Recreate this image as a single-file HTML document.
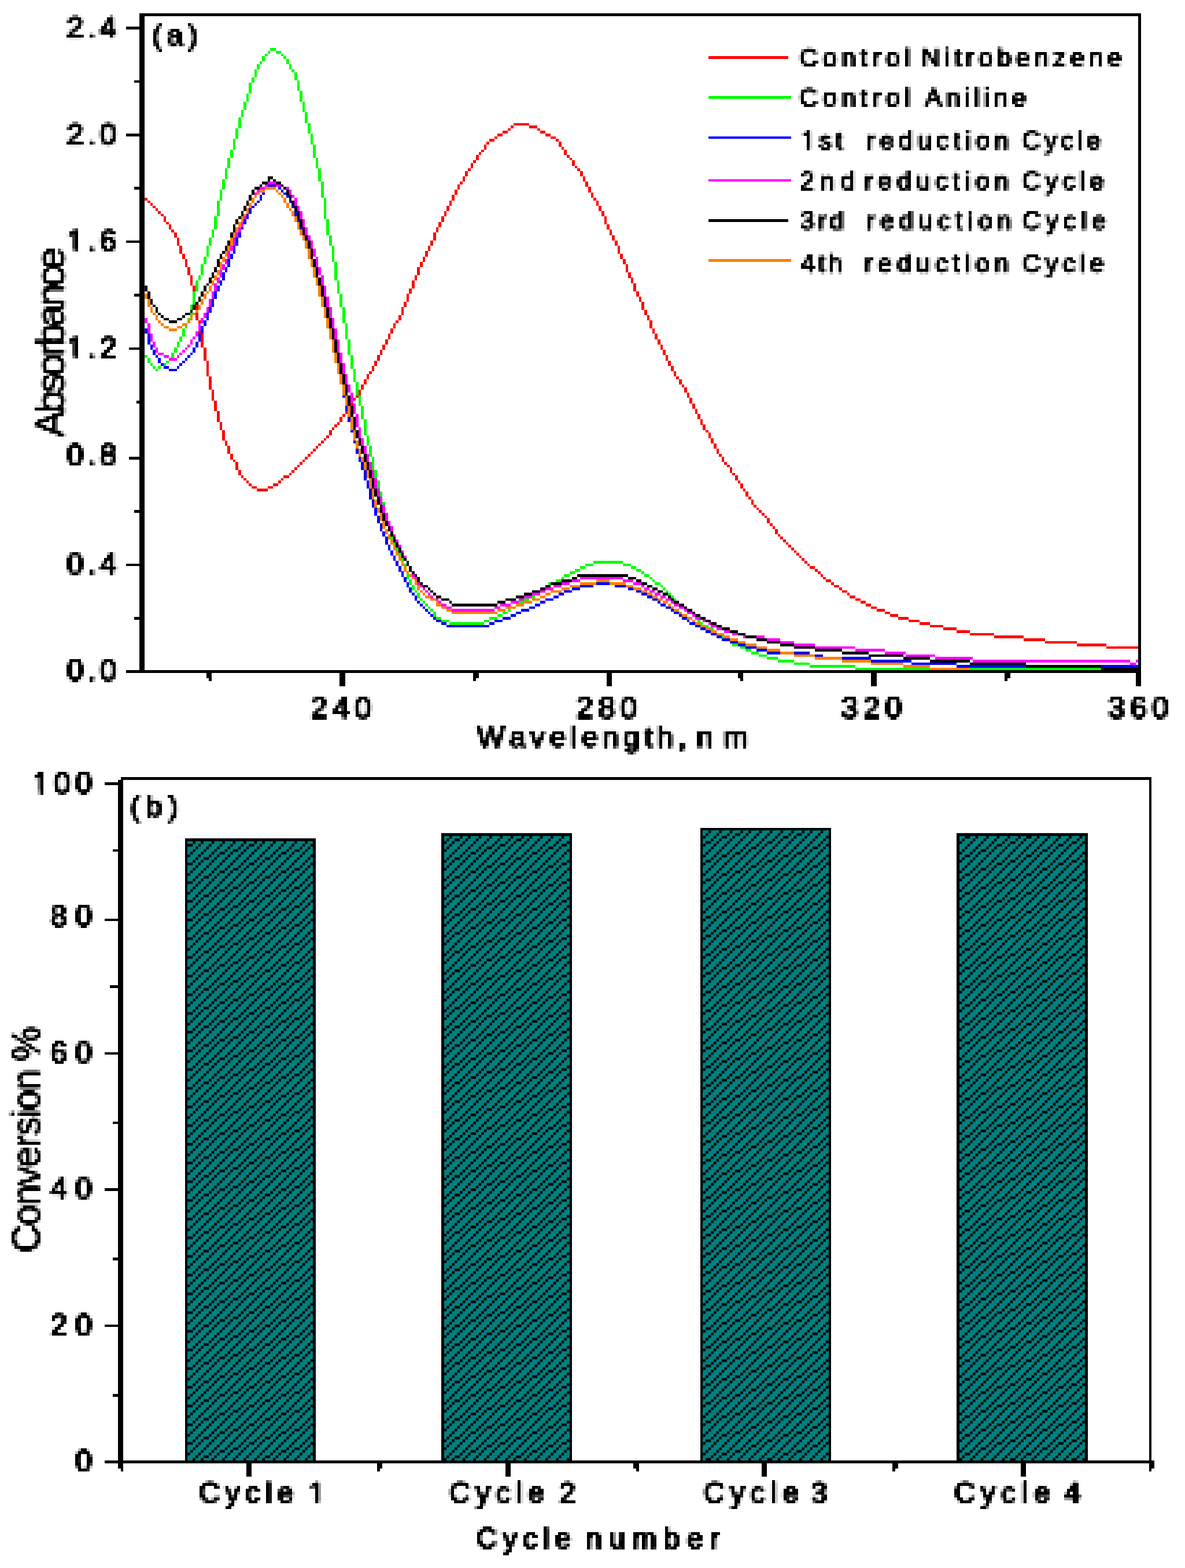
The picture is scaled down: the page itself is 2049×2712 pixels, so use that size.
<!DOCTYPE html>
<html lang="en">
<head>
<meta charset="utf-8">
<title>UV-Vis absorbance and conversion per reduction cycle</title>
<style>
html,body{margin:0;padding:0;background:#fff;}
body{width:2049px;height:2712px;overflow:hidden;}
svg{display:block;}
text{white-space:pre;}
</style>
</head>
<body>
<svg width="2049" height="2712" viewBox="0 0 2049 2712" role="img" aria-label="(a) UV-Vis absorbance spectra; (b) conversion per cycle">
<rect width="2049" height="2712" fill="#fff"/>
<g id="chart-a" shape-rendering="crispEdges">
<clipPath id="plotclip"><rect x="250.28" y="27.91" width="1717.97" height="1136.08"/></clipPath>
<g id="curves" clip-path="url(#plotclip)">
<path fill="#ff0000" d="M250.28 341.95h4.62v4.62h-4.62zM254.9 346.56h4.62v4.62h-4.62zM259.52 351.18h4.62v4.62h-4.62zM264.14 355.8h4.62v4.62h-4.62zM268.76 360.42h4.62v4.62h-4.62zM273.37 365.04h4.62v4.62h-4.62zM277.99 369.66h4.62v4.62h-4.62zM282.61 374.27h4.62v9.24h-4.62zM287.23 383.51h4.62v4.62h-4.62zM291.85 388.13h4.62v9.24h-4.62zM296.46 397.37h4.62v4.62h-4.62zM301.08 401.98h4.62v9.24h-4.62zM305.7 411.22h4.62v13.85h-4.62zM310.32 425.07h4.62v13.85h-4.62zM314.94 438.93h4.62v9.24h-4.62zM319.56 448.17h4.62v13.85h-4.62zM324.17 462.02h4.62v13.85h-4.62zM328.79 475.87h4.62v18.47h-4.62zM333.41 494.35h4.62v32.33h-4.62zM338.03 526.67h4.62v27.71h-4.62zM342.65 554.38h4.62v23.09h-4.62zM347.26 577.48h4.62v23.09h-4.62zM351.88 600.57h4.62v23.09h-4.62zM356.5 623.66h4.62v27.71h-4.62zM361.12 651.37h4.62v23.09h-4.62zM365.74 674.46h4.62v18.47h-4.62zM370.36 692.93h4.62v18.47h-4.62zM374.97 711.4h4.62v18.47h-4.62zM379.59 729.88h4.62v13.85h-4.62zM384.21 743.73h4.62v18.47h-4.62zM388.83 762.2h4.62v9.24h-4.62zM393.45 771.44h4.62v13.85h-4.62zM398.07 785.29h4.62v9.24h-4.62zM402.68 794.53h4.62v4.62h-4.62zM407.3 799.15h4.62v13.85h-4.62zM411.92 813h4.62v9.24h-4.62zM416.54 822.24h4.62v4.62h-4.62zM421.16 826.86h4.62v4.62h-4.62zM425.77 831.48h4.62v4.62h-4.62zM430.39 836.09h4.62v4.62h-4.62zM435.01 840.71h9.24v4.62h-9.24zM444.25 845.33h18.47v4.62h-18.47zM462.72 840.71h9.24v4.62h-9.24zM471.96 836.09h9.24v4.62h-9.24zM481.19 831.48h4.62v4.62h-4.62zM485.81 826.86h4.62v4.62h-4.62zM490.43 822.24h9.24v4.62h-9.24zM499.67 817.62h4.62v4.62h-4.62zM504.28 813h4.62v4.62h-4.62zM508.9 808.38h4.62v4.62h-4.62zM513.52 803.77h4.62v4.62h-4.62zM518.14 799.15h4.62v4.62h-4.62zM522.76 794.53h4.62v4.62h-4.62zM527.37 789.91h4.62v4.62h-4.62zM531.99 785.29h4.62v4.62h-4.62zM536.61 780.68h4.62v4.62h-4.62zM541.23 776.06h4.62v4.62h-4.62zM545.85 771.44h4.62v4.62h-4.62zM550.47 766.82h4.62v4.62h-4.62zM555.08 762.2h4.62v4.62h-4.62zM559.7 757.58h4.62v4.62h-4.62zM564.32 752.97h4.62v4.62h-4.62zM568.94 743.73h4.62v9.24h-4.62zM573.56 739.11h4.62v4.62h-4.62zM578.17 734.49h4.62v4.62h-4.62zM582.79 729.88h4.62v4.62h-4.62zM587.41 720.64h4.62v9.24h-4.62zM592.03 716.02h4.62v4.62h-4.62zM596.65 706.78h4.62v9.24h-4.62zM601.27 702.17h4.62v4.62h-4.62zM605.88 692.93h4.62v9.24h-4.62zM610.5 688.31h4.62v4.62h-4.62zM615.12 683.69h4.62v4.62h-4.62zM619.74 674.46h4.62v9.24h-4.62zM624.36 665.22h4.62v9.24h-4.62zM628.98 655.98h4.62v9.24h-4.62zM633.59 646.75h4.62v9.24h-4.62zM638.21 642.13h4.62v4.62h-4.62zM642.83 632.89h4.62v9.24h-4.62zM647.45 623.66h4.62v9.24h-4.62zM652.07 614.42h4.62v9.24h-4.62zM656.68 605.18h4.62v9.24h-4.62zM661.3 595.95h4.62v9.24h-4.62zM665.92 586.71h4.62v9.24h-4.62zM670.54 577.48h4.62v9.24h-4.62zM675.16 568.24h4.62v9.24h-4.62zM679.78 559h4.62v9.24h-4.62zM684.39 554.38h4.62v4.62h-4.62zM689.01 545.15h4.62v9.24h-4.62zM693.63 531.29h4.62v13.85h-4.62zM698.25 522.06h4.62v9.24h-4.62zM702.87 508.2h4.62v13.85h-4.62zM707.48 498.97h4.62v9.24h-4.62zM712.1 485.11h4.62v13.85h-4.62zM716.72 475.87h4.62v9.24h-4.62zM721.34 462.02h4.62v13.85h-4.62zM725.96 452.78h4.62v9.24h-4.62zM730.58 443.55h4.62v9.24h-4.62zM735.19 434.31h4.62v9.24h-4.62zM739.81 425.07h4.62v9.24h-4.62zM744.43 415.84h4.62v9.24h-4.62zM749.05 401.98h4.62v13.85h-4.62zM753.67 392.75h4.62v9.24h-4.62zM758.28 383.51h4.62v9.24h-4.62zM762.9 374.27h4.62v9.24h-4.62zM767.52 365.04h4.62v9.24h-4.62zM772.14 355.8h4.62v9.24h-4.62zM776.76 346.56h4.62v9.24h-4.62zM781.38 337.33h4.62v9.24h-4.62zM785.99 328.09h4.62v9.24h-4.62zM790.61 318.86h4.62v9.24h-4.62zM795.23 314.24h4.62v4.62h-4.62zM799.85 305h4.62v9.24h-4.62zM804.47 295.76h4.62v9.24h-4.62zM809.08 291.15h4.62v4.62h-4.62zM813.7 281.91h4.62v9.24h-4.62zM818.32 277.29h4.62v4.62h-4.62zM822.94 268.06h4.62v9.24h-4.62zM827.56 263.44h4.62v4.62h-4.62zM832.18 258.82h4.62v4.62h-4.62zM836.79 249.58h4.62v9.24h-4.62zM841.41 244.96h4.62v4.62h-4.62zM846.03 240.35h9.24v4.62h-9.24zM855.27 235.73h4.62v4.62h-4.62zM859.89 231.11h9.24v4.62h-9.24zM869.12 226.49h9.24v4.62h-9.24zM878.36 221.87h4.62v4.62h-4.62zM882.98 217.26h4.62v4.62h-4.62zM887.59 212.64h27.71v4.62h-27.71zM915.3 217.26h13.85v4.62h-13.85zM929.16 221.87h4.62v4.62h-4.62zM933.78 226.49h9.24v4.62h-9.24zM943.01 231.11h9.24v4.62h-9.24zM952.25 235.73h9.24v4.62h-9.24zM961.49 240.35h4.62v4.62h-4.62zM966.1 244.96h4.62v9.24h-4.62zM970.72 254.2h4.62v4.62h-4.62zM975.34 258.82h4.62v9.24h-4.62zM979.96 268.06h4.62v4.62h-4.62zM984.58 272.67h4.62v4.62h-4.62zM989.19 277.29h4.62v9.24h-4.62zM993.81 286.53h4.62v4.62h-4.62zM998.43 291.15h4.62v4.62h-4.62zM1003.05 295.76h4.62v9.24h-4.62zM1007.67 305h4.62v9.24h-4.62zM1012.29 314.24h4.62v9.24h-4.62zM1016.9 323.47h4.62v9.24h-4.62zM1021.52 332.71h4.62v9.24h-4.62zM1026.14 341.95h4.62v4.62h-4.62zM1030.76 346.56h4.62v9.24h-4.62zM1035.38 355.8h4.62v9.24h-4.62zM1040 365.04h4.62v9.24h-4.62zM1044.61 374.27h4.62v13.85h-4.62zM1049.23 388.13h4.62v9.24h-4.62zM1053.85 397.37h4.62v9.24h-4.62zM1058.47 406.6h4.62v9.24h-4.62zM1063.09 415.84h4.62v9.24h-4.62zM1067.7 425.07h4.62v13.85h-4.62zM1072.32 438.93h4.62v9.24h-4.62zM1076.94 448.17h4.62v9.24h-4.62zM1081.56 457.4h4.62v13.85h-4.62zM1086.18 471.26h4.62v9.24h-4.62zM1090.8 480.49h4.62v9.24h-4.62zM1095.41 489.73h4.62v13.85h-4.62zM1100.03 503.58h4.62v9.24h-4.62zM1104.65 512.82h4.62v9.24h-4.62zM1109.27 522.06h4.62v13.85h-4.62zM1113.89 535.91h4.62v9.24h-4.62zM1118.5 545.15h4.62v9.24h-4.62zM1123.12 554.38h4.62v13.85h-4.62zM1127.74 568.24h4.62v9.24h-4.62zM1132.36 577.48h4.62v9.24h-4.62zM1136.98 586.71h4.62v9.24h-4.62zM1141.6 595.95h4.62v9.24h-4.62zM1146.21 605.18h4.62v9.24h-4.62zM1150.83 614.42h4.62v9.24h-4.62zM1155.45 623.66h4.62v9.24h-4.62zM1160.07 632.89h4.62v9.24h-4.62zM1164.69 642.13h4.62v9.24h-4.62zM1169.3 651.37h4.62v4.62h-4.62zM1173.92 655.98h4.62v9.24h-4.62zM1178.54 665.22h4.62v4.62h-4.62zM1183.16 669.84h4.62v9.24h-4.62zM1187.78 679.08h4.62v9.24h-4.62zM1192.4 688.31h4.62v9.24h-4.62zM1197.01 697.55h4.62v9.24h-4.62zM1201.63 706.78h4.62v9.24h-4.62zM1206.25 716.02h4.62v9.24h-4.62zM1210.87 725.26h4.62v9.24h-4.62zM1215.49 734.49h4.62v9.24h-4.62zM1220.1 743.73h4.62v4.62h-4.62zM1224.72 748.35h4.62v9.24h-4.62zM1229.34 757.58h4.62v9.24h-4.62zM1233.96 766.82h4.62v9.24h-4.62zM1238.58 776.06h4.62v9.24h-4.62zM1243.2 785.29h4.62v4.62h-4.62zM1247.81 789.91h4.62v9.24h-4.62zM1252.43 799.15h4.62v4.62h-4.62zM1257.05 803.77h4.62v4.62h-4.62zM1261.67 808.38h4.62v9.24h-4.62zM1266.29 817.62h4.62v4.62h-4.62zM1270.9 822.24h4.62v9.24h-4.62zM1275.52 831.48h4.62v4.62h-4.62zM1280.14 836.09h4.62v9.24h-4.62zM1284.76 845.33h4.62v4.62h-4.62zM1289.38 849.95h4.62v9.24h-4.62zM1294 859.19h4.62v4.62h-4.62zM1298.61 863.8h4.62v9.24h-4.62zM1303.23 873.04h4.62v4.62h-4.62zM1307.85 877.66h4.62v4.62h-4.62zM1312.47 882.28h4.62v4.62h-4.62zM1317.09 886.89h4.62v4.62h-4.62zM1321.71 891.51h4.62v4.62h-4.62zM1326.32 896.13h4.62v9.24h-4.62zM1330.94 905.37h4.62v4.62h-4.62zM1335.56 909.99h4.62v4.62h-4.62zM1340.18 914.6h4.62v9.24h-4.62zM1344.8 923.84h4.62v4.62h-4.62zM1349.41 928.46h4.62v4.62h-4.62zM1354.03 933.08h4.62v4.62h-4.62zM1358.65 937.69h4.62v4.62h-4.62zM1363.27 942.31h4.62v4.62h-4.62zM1367.89 946.93h4.62v4.62h-4.62zM1372.51 951.55h4.62v4.62h-4.62zM1377.12 956.17h4.62v4.62h-4.62zM1381.74 960.79h4.62v4.62h-4.62zM1386.36 965.4h4.62v4.62h-4.62zM1390.98 970.02h4.62v4.62h-4.62zM1395.6 974.64h4.62v4.62h-4.62zM1400.21 979.26h9.24v4.62h-9.24zM1409.45 983.88h4.62v4.62h-4.62zM1414.07 988.49h4.62v4.62h-4.62zM1418.69 993.11h4.62v4.62h-4.62zM1423.31 997.73h4.62v4.62h-4.62zM1427.92 1002.35h9.24v4.62h-9.24zM1437.16 1006.97h4.62v4.62h-4.62zM1441.78 1011.59h9.24v4.62h-9.24zM1451.01 1016.2h4.62v4.62h-4.62zM1455.63 1020.82h9.24v4.62h-9.24zM1464.87 1025.44h4.62v4.62h-4.62zM1469.49 1030.06h9.24v4.62h-9.24zM1478.72 1034.68h9.24v4.62h-9.24zM1487.96 1039.3h9.24v4.62h-9.24zM1497.2 1043.91h9.24v4.62h-9.24zM1506.43 1048.53h9.24v4.62h-9.24zM1515.67 1053.15h13.85v4.62h-13.85zM1529.52 1057.77h9.24v4.62h-9.24zM1538.76 1062.39h13.85v4.62h-13.85zM1552.62 1067h18.47v4.62h-18.47zM1571.09 1071.62h18.47v4.62h-18.47zM1589.56 1076.24h18.47v4.62h-18.47zM1608.03 1080.86h23.09v4.62h-23.09zM1631.12 1085.48h23.09v4.62h-23.09zM1654.22 1090.1h23.09v4.62h-23.09zM1677.31 1094.71h41.56v4.62h-41.56zM1718.87 1099.33h50.8v4.62h-50.8zM1769.67 1103.95h36.95v4.62h-36.95zM1806.62 1108.57h55.42v4.62h-55.42zM1862.03 1113.19h50.8v4.62h-50.8zM1912.83 1117.8h55.42v4.62h-55.42z"/>
<path fill="#00ff00" d="M250.28 614.42h4.62v4.62h-4.62zM254.9 619.04h4.62v9.24h-4.62zM259.52 628.28h4.62v4.62h-4.62zM264.14 632.89h4.62v4.62h-4.62zM268.76 637.51h4.62v4.62h-4.62zM273.37 632.89h4.62v4.62h-4.62zM277.99 628.28h9.24v4.62h-9.24zM287.23 623.66h4.62v4.62h-4.62zM291.85 619.04h4.62v4.62h-4.62zM296.46 609.8h4.62v9.24h-4.62zM301.08 600.57h4.62v9.24h-4.62zM305.7 591.33h4.62v9.24h-4.62zM310.32 582.09h4.62v9.24h-4.62zM314.94 568.24h4.62v13.85h-4.62zM319.56 559h4.62v9.24h-4.62zM324.17 549.77h4.62v9.24h-4.62zM328.79 526.67h4.62v23.09h-4.62zM333.41 503.58h4.62v23.09h-4.62zM338.03 485.11h4.62v18.47h-4.62zM342.65 475.87h4.62v9.24h-4.62zM347.26 457.4h4.62v18.47h-4.62zM351.88 443.55h4.62v13.85h-4.62zM356.5 425.07h4.62v18.47h-4.62zM361.12 411.22h4.62v13.85h-4.62zM365.74 397.37h4.62v13.85h-4.62zM370.36 374.27h4.62v23.09h-4.62zM374.97 346.56h4.62v27.71h-4.62zM379.59 328.09h4.62v18.47h-4.62zM384.21 309.62h4.62v18.47h-4.62zM388.83 291.15h4.62v18.47h-4.62zM393.45 272.67h4.62v18.47h-4.62zM398.07 258.82h4.62v13.85h-4.62zM402.68 240.35h4.62v18.47h-4.62zM407.3 221.87h4.62v18.47h-4.62zM411.92 203.4h4.62v18.47h-4.62zM416.54 189.55h4.62v13.85h-4.62zM421.16 175.69h4.62v13.85h-4.62zM425.77 161.84h4.62v13.85h-4.62zM430.39 143.36h4.62v18.47h-4.62zM435.01 134.13h4.62v9.24h-4.62zM439.63 120.27h4.62v13.85h-4.62zM444.25 111.04h4.62v9.24h-4.62zM448.87 106.42h4.62v4.62h-4.62zM453.48 97.18h4.62v9.24h-4.62zM458.1 92.56h4.62v4.62h-4.62zM462.72 87.95h4.62v4.62h-4.62zM467.34 83.33h9.24v4.62h-9.24zM476.57 87.95h9.24v4.62h-9.24zM485.81 92.56h4.62v4.62h-4.62zM490.43 97.18h4.62v4.62h-4.62zM495.05 101.8h4.62v9.24h-4.62zM499.67 111.04h4.62v9.24h-4.62zM504.28 120.27h4.62v4.62h-4.62zM508.9 124.89h4.62v13.85h-4.62zM513.52 138.75h4.62v18.47h-4.62zM518.14 157.22h4.62v18.47h-4.62zM522.76 175.69h4.62v18.47h-4.62zM527.37 194.16h4.62v18.47h-4.62zM531.99 212.64h4.62v18.47h-4.62zM536.61 231.11h4.62v18.47h-4.62zM541.23 249.58h4.62v23.09h-4.62zM545.85 272.67h4.62v18.47h-4.62zM550.47 291.15h4.62v23.09h-4.62zM555.08 314.24h4.62v27.71h-4.62zM559.7 341.95h4.62v36.95h-4.62zM564.32 378.89h4.62v27.71h-4.62zM568.94 406.6h4.62v18.47h-4.62zM573.56 425.07h4.62v27.71h-4.62zM578.17 452.78h4.62v32.33h-4.62zM582.79 485.11h4.62v23.09h-4.62zM587.41 508.2h4.62v23.09h-4.62zM592.03 531.29h4.62v27.71h-4.62zM596.65 559h4.62v27.71h-4.62zM601.27 586.71h4.62v27.71h-4.62zM605.88 614.42h4.62v23.09h-4.62zM610.5 637.51h4.62v23.09h-4.62zM615.12 660.6h4.62v23.09h-4.62zM619.74 683.69h4.62v18.47h-4.62zM624.36 702.17h4.62v23.09h-4.62zM628.98 725.26h4.62v27.71h-4.62zM633.59 752.97h4.62v18.47h-4.62zM638.21 771.44h4.62v18.47h-4.62zM642.83 789.91h4.62v23.09h-4.62zM647.45 813h4.62v18.47h-4.62zM652.07 831.48h4.62v18.47h-4.62zM656.68 849.95h4.62v18.47h-4.62zM661.3 868.42h4.62v18.47h-4.62zM665.92 886.89h4.62v13.85h-4.62zM670.54 900.75h4.62v18.47h-4.62zM675.16 919.22h4.62v13.85h-4.62zM679.78 933.08h4.62v9.24h-4.62zM684.39 942.31h4.62v9.24h-4.62zM689.01 951.55h4.62v9.24h-4.62zM693.63 960.79h4.62v13.85h-4.62zM698.25 974.64h4.62v13.85h-4.62zM702.87 988.49h4.62v13.85h-4.62zM707.48 1002.35h4.62v9.24h-4.62zM712.1 1011.59h4.62v9.24h-4.62zM716.72 1020.82h4.62v4.62h-4.62zM721.34 1025.44h4.62v9.24h-4.62zM725.96 1034.68h4.62v4.62h-4.62zM730.58 1039.3h4.62v4.62h-4.62zM735.19 1043.91h4.62v4.62h-4.62zM739.81 1048.53h4.62v4.62h-4.62zM744.43 1053.15h4.62v4.62h-4.62zM749.05 1057.77h4.62v9.24h-4.62zM753.67 1067h9.24v4.62h-9.24zM762.9 1071.62h13.85v4.62h-13.85zM776.76 1076.24h60.04v4.62h-60.04zM836.79 1071.62h9.24v4.62h-9.24zM846.03 1067h13.85v4.62h-13.85zM859.89 1062.39h9.24v4.62h-9.24zM869.12 1057.77h9.24v4.62h-9.24zM878.36 1053.15h4.62v4.62h-4.62zM882.98 1048.53h9.24v4.62h-9.24zM892.21 1043.91h4.62v4.62h-4.62zM896.83 1039.3h9.24v4.62h-9.24zM906.07 1034.68h9.24v4.62h-9.24zM915.3 1030.06h9.24v4.62h-9.24zM924.54 1025.44h4.62v4.62h-4.62zM929.16 1020.82h9.24v4.62h-9.24zM938.39 1016.2h4.62v4.62h-4.62zM943.01 1011.59h4.62v4.62h-4.62zM947.63 1006.97h13.85v4.62h-13.85zM961.49 1002.35h9.24v4.62h-9.24zM970.72 997.73h4.62v4.62h-4.62zM975.34 993.11h9.24v4.62h-9.24zM984.58 988.49h9.24v4.62h-9.24zM993.81 983.88h9.24v4.62h-9.24zM1003.05 979.26h9.24v4.62h-9.24zM1012.29 974.64h13.85v4.62h-13.85zM1026.14 970.02h50.8v4.62h-50.8zM1076.94 974.64h13.85v4.62h-13.85zM1090.8 979.26h9.24v4.62h-9.24zM1100.03 983.88h9.24v4.62h-9.24zM1109.27 988.49h4.62v4.62h-4.62zM1113.89 993.11h9.24v4.62h-9.24zM1123.12 997.73h4.62v4.62h-4.62zM1127.74 1002.35h4.62v4.62h-4.62zM1132.36 1006.97h9.24v4.62h-9.24zM1141.6 1011.59h4.62v4.62h-4.62zM1146.21 1016.2h4.62v4.62h-4.62zM1150.83 1020.82h4.62v4.62h-4.62zM1155.45 1025.44h4.62v4.62h-4.62zM1160.07 1030.06h4.62v4.62h-4.62zM1164.69 1034.68h4.62v4.62h-4.62zM1169.3 1039.3h4.62v4.62h-4.62zM1173.92 1043.91h4.62v4.62h-4.62zM1178.54 1048.53h9.24v4.62h-9.24zM1187.78 1053.15h4.62v4.62h-4.62zM1192.4 1057.77h4.62v4.62h-4.62zM1197.01 1062.39h4.62v4.62h-4.62zM1201.63 1067h4.62v4.62h-4.62zM1206.25 1071.62h4.62v4.62h-4.62zM1210.87 1076.24h4.62v4.62h-4.62zM1215.49 1080.86h9.24v4.62h-9.24zM1224.72 1085.48h9.24v4.62h-9.24zM1233.96 1090.1h4.62v4.62h-4.62zM1238.58 1094.71h9.24v4.62h-9.24zM1247.81 1099.33h4.62v4.62h-4.62zM1252.43 1103.95h9.24v4.62h-9.24zM1261.67 1108.57h4.62v4.62h-4.62zM1266.29 1113.19h13.85v4.62h-13.85zM1280.14 1117.8h9.24v4.62h-9.24zM1289.38 1122.42h9.24v4.62h-9.24zM1298.61 1127.04h13.85v4.62h-13.85zM1312.47 1131.66h13.85v4.62h-13.85zM1326.32 1136.28h18.47v4.62h-18.47zM1344.8 1140.9h27.71v4.62h-27.71zM1372.51 1145.51h27.71v4.62h-27.71zM1400.21 1150.13h78.51v4.62h-78.51zM1478.72 1154.75h489.53v4.62h-489.53z"/>
<path fill="#0000ff" d="M250.28 568.24h4.62v9.24h-4.62zM254.9 577.48h4.62v18.47h-4.62zM259.52 595.95h4.62v9.24h-4.62zM264.14 605.18h4.62v9.24h-4.62zM268.76 614.42h4.62v4.62h-4.62zM273.37 619.04h4.62v9.24h-4.62zM277.99 628.28h4.62v4.62h-4.62zM282.61 632.89h9.24v4.62h-9.24zM291.85 637.51h13.85v4.62h-13.85zM305.7 632.89h4.62v4.62h-4.62zM310.32 628.28h4.62v4.62h-4.62zM314.94 623.66h4.62v4.62h-4.62zM319.56 619.04h4.62v4.62h-4.62zM324.17 614.42h4.62v4.62h-4.62zM328.79 609.8h4.62v4.62h-4.62zM333.41 600.57h4.62v9.24h-4.62zM338.03 591.33h4.62v9.24h-4.62zM342.65 577.48h4.62v13.85h-4.62zM347.26 563.62h4.62v13.85h-4.62zM351.88 554.38h4.62v9.24h-4.62zM356.5 540.53h4.62v13.85h-4.62zM361.12 531.29h4.62v9.24h-4.62zM365.74 517.44h4.62v13.85h-4.62zM370.36 503.58h4.62v13.85h-4.62zM374.97 494.35h4.62v9.24h-4.62zM379.59 485.11h4.62v9.24h-4.62zM384.21 471.26h4.62v13.85h-4.62zM388.83 462.02h4.62v9.24h-4.62zM393.45 448.17h4.62v13.85h-4.62zM398.07 438.93h4.62v9.24h-4.62zM402.68 425.07h4.62v13.85h-4.62zM407.3 411.22h4.62v13.85h-4.62zM411.92 397.37h4.62v13.85h-4.62zM416.54 388.13h4.62v9.24h-4.62zM421.16 378.89h4.62v9.24h-4.62zM425.77 369.66h4.62v9.24h-4.62zM430.39 360.42h4.62v9.24h-4.62zM435.01 355.8h4.62v4.62h-4.62zM439.63 351.18h4.62v4.62h-4.62zM444.25 346.56h4.62v4.62h-4.62zM448.87 337.33h4.62v9.24h-4.62zM453.48 328.09h4.62v9.24h-4.62zM458.1 318.86h4.62v9.24h-4.62zM462.72 318.86h18.47v4.62h-18.47zM481.19 323.47h4.62v4.62h-4.62zM485.81 328.09h4.62v4.62h-4.62zM490.43 332.71h4.62v4.62h-4.62zM495.05 337.33h4.62v4.62h-4.62zM499.67 341.95h4.62v9.24h-4.62zM504.28 351.18h4.62v9.24h-4.62zM508.9 360.42h4.62v13.85h-4.62zM513.52 374.27h4.62v18.47h-4.62zM518.14 392.75h4.62v13.85h-4.62zM522.76 406.6h4.62v9.24h-4.62zM527.37 415.84h4.62v13.85h-4.62zM531.99 429.69h4.62v13.85h-4.62zM536.61 443.55h4.62v18.47h-4.62zM541.23 462.02h4.62v18.47h-4.62zM545.85 480.49h4.62v13.85h-4.62zM550.47 494.35h4.62v18.47h-4.62zM555.08 512.82h4.62v18.47h-4.62zM559.7 531.29h4.62v18.47h-4.62zM564.32 549.77h4.62v18.47h-4.62zM568.94 568.24h4.62v18.47h-4.62zM573.56 586.71h4.62v23.09h-4.62zM578.17 609.8h4.62v18.47h-4.62zM582.79 628.28h4.62v18.47h-4.62zM587.41 646.75h4.62v18.47h-4.62zM592.03 665.22h4.62v23.09h-4.62zM596.65 688.31h4.62v23.09h-4.62zM601.27 711.4h4.62v18.47h-4.62zM605.88 729.88h4.62v18.47h-4.62zM610.5 748.35h4.62v18.47h-4.62zM615.12 766.82h4.62v18.47h-4.62zM619.74 785.29h4.62v13.85h-4.62zM624.36 799.15h4.62v13.85h-4.62zM628.98 813h4.62v18.47h-4.62zM633.59 831.48h4.62v13.85h-4.62zM638.21 845.33h4.62v18.47h-4.62zM642.83 863.8h4.62v13.85h-4.62zM647.45 877.66h4.62v13.85h-4.62zM652.07 891.51h4.62v13.85h-4.62zM656.68 905.37h4.62v13.85h-4.62zM661.3 919.22h4.62v9.24h-4.62zM665.92 928.46h4.62v13.85h-4.62zM670.54 942.31h4.62v9.24h-4.62zM675.16 951.55h4.62v9.24h-4.62zM679.78 960.79h4.62v9.24h-4.62zM684.39 970.02h4.62v9.24h-4.62zM689.01 979.26h4.62v9.24h-4.62zM693.63 988.49h4.62v9.24h-4.62zM698.25 997.73h4.62v9.24h-4.62zM702.87 1006.97h4.62v9.24h-4.62zM707.48 1016.2h4.62v9.24h-4.62zM712.1 1025.44h4.62v4.62h-4.62zM716.72 1030.06h4.62v9.24h-4.62zM721.34 1039.3h4.62v4.62h-4.62zM725.96 1043.91h4.62v4.62h-4.62zM730.58 1048.53h4.62v4.62h-4.62zM735.19 1053.15h4.62v4.62h-4.62zM739.81 1057.77h4.62v4.62h-4.62zM744.43 1062.39h4.62v4.62h-4.62zM749.05 1067h4.62v4.62h-4.62zM753.67 1071.62h9.24v4.62h-9.24zM762.9 1076.24h9.24v4.62h-9.24zM772.14 1080.86h73.89v4.62h-73.89zM846.03 1076.24h9.24v4.62h-9.24zM855.27 1071.62h13.85v4.62h-13.85zM869.12 1067h13.85v4.62h-13.85zM882.98 1062.39h9.24v4.62h-9.24zM892.21 1057.77h9.24v4.62h-9.24zM901.45 1053.15h13.85v4.62h-13.85zM915.3 1048.53h9.24v4.62h-9.24zM924.54 1043.91h9.24v4.62h-9.24zM933.78 1039.3h9.24v4.62h-9.24zM943.01 1034.68h13.85v4.62h-13.85zM956.87 1030.06h9.24v4.62h-9.24zM966.1 1025.44h9.24v4.62h-9.24zM975.34 1020.82h13.85v4.62h-13.85zM989.19 1016.2h13.85v4.62h-13.85zM1003.05 1011.59h23.09v4.62h-23.09zM1026.14 1006.97h36.95v4.62h-36.95zM1063.09 1011.59h23.09v4.62h-23.09zM1086.18 1016.2h13.85v4.62h-13.85zM1100.03 1020.82h9.24v4.62h-9.24zM1109.27 1025.44h9.24v4.62h-9.24zM1118.5 1030.06h9.24v4.62h-9.24zM1127.74 1034.68h9.24v4.62h-9.24zM1136.98 1039.3h4.62v4.62h-4.62zM1141.6 1043.91h9.24v4.62h-9.24zM1150.83 1048.53h9.24v4.62h-9.24zM1160.07 1053.15h4.62v4.62h-4.62zM1164.69 1057.77h9.24v4.62h-9.24zM1173.92 1062.39h4.62v4.62h-4.62zM1178.54 1067h9.24v4.62h-9.24zM1187.78 1071.62h4.62v4.62h-4.62zM1192.4 1076.24h9.24v4.62h-9.24zM1201.63 1080.86h9.24v4.62h-9.24zM1210.87 1085.48h9.24v4.62h-9.24zM1220.1 1090.1h9.24v4.62h-9.24zM1229.34 1094.71h9.24v4.62h-9.24zM1238.58 1099.33h9.24v4.62h-9.24zM1247.81 1103.95h13.85v4.62h-13.85zM1261.67 1108.57h13.85v4.62h-13.85zM1275.52 1113.19h13.85v4.62h-13.85zM1289.38 1117.8h18.47v4.62h-18.47zM1307.85 1122.42h18.47v4.62h-18.47zM1326.32 1127.04h73.89v4.62h-73.89zM1400.21 1131.66h23.09v4.62h-23.09zM1423.31 1136.28h83.13v4.62h-83.13zM1506.43 1140.9h69.27v4.62h-69.27zM1575.71 1145.51h78.51v4.62h-78.51zM1654.22 1150.13h314.04v4.62h-314.04z"/>
<path fill="#ff00ff" d="M250.28 549.77h4.62v9.24h-4.62zM254.9 559h4.62v18.47h-4.62zM259.52 577.48h4.62v13.85h-4.62zM264.14 591.33h4.62v9.24h-4.62zM268.76 600.57h4.62v9.24h-4.62zM273.37 609.8h9.24v4.62h-9.24zM282.61 614.42h9.24v4.62h-9.24zM291.85 619.04h13.85v4.62h-13.85zM305.7 614.42h4.62v4.62h-4.62zM310.32 609.8h4.62v4.62h-4.62zM314.94 605.18h4.62v4.62h-4.62zM319.56 600.57h4.62v4.62h-4.62zM324.17 595.95h4.62v4.62h-4.62zM328.79 586.71h4.62v9.24h-4.62zM333.41 582.09h4.62v4.62h-4.62zM338.03 572.86h4.62v9.24h-4.62zM342.65 559h4.62v13.85h-4.62zM347.26 549.77h4.62v9.24h-4.62zM351.88 540.53h4.62v9.24h-4.62zM356.5 531.29h4.62v9.24h-4.62zM361.12 517.44h4.62v13.85h-4.62zM365.74 503.58h4.62v13.85h-4.62zM370.36 489.73h4.62v13.85h-4.62zM374.97 480.49h4.62v9.24h-4.62zM379.59 466.64h4.62v13.85h-4.62zM384.21 457.4h4.62v9.24h-4.62zM388.83 448.17h4.62v9.24h-4.62zM393.45 434.31h4.62v13.85h-4.62zM398.07 425.07h4.62v9.24h-4.62zM402.68 411.22h4.62v13.85h-4.62zM407.3 401.98h4.62v9.24h-4.62zM411.92 392.75h4.62v9.24h-4.62zM416.54 378.89h4.62v13.85h-4.62zM421.16 369.66h4.62v9.24h-4.62zM425.77 360.42h4.62v9.24h-4.62zM430.39 351.18h4.62v9.24h-4.62zM435.01 341.95h4.62v9.24h-4.62zM439.63 332.71h4.62v9.24h-4.62zM444.25 328.09h4.62v4.62h-4.62zM448.87 323.47h9.24v4.62h-9.24zM458.1 318.86h4.62v4.62h-4.62zM462.72 314.24h13.85v4.62h-13.85zM476.57 318.86h13.85v4.62h-13.85zM490.43 323.47h9.24v4.62h-9.24zM499.67 328.09h4.62v9.24h-4.62zM504.28 337.33h4.62v4.62h-4.62zM508.9 341.95h4.62v13.85h-4.62zM513.52 355.8h4.62v9.24h-4.62zM518.14 365.04h4.62v13.85h-4.62zM522.76 378.89h4.62v13.85h-4.62zM527.37 392.75h4.62v13.85h-4.62zM531.99 406.6h4.62v9.24h-4.62zM536.61 415.84h4.62v13.85h-4.62zM541.23 429.69h4.62v13.85h-4.62zM545.85 443.55h4.62v18.47h-4.62zM550.47 462.02h4.62v13.85h-4.62zM555.08 475.87h4.62v18.47h-4.62zM559.7 494.35h4.62v18.47h-4.62zM564.32 512.82h4.62v18.47h-4.62zM568.94 531.29h4.62v18.47h-4.62zM573.56 549.77h4.62v18.47h-4.62zM578.17 568.24h4.62v18.47h-4.62zM582.79 586.71h4.62v23.09h-4.62zM587.41 609.8h4.62v18.47h-4.62zM592.03 628.28h4.62v18.47h-4.62zM596.65 646.75h4.62v18.47h-4.62zM601.27 665.22h4.62v13.85h-4.62zM605.88 679.08h4.62v18.47h-4.62zM610.5 697.55h4.62v18.47h-4.62zM615.12 716.02h4.62v23.09h-4.62zM619.74 739.11h4.62v18.47h-4.62zM624.36 757.58h4.62v13.85h-4.62zM628.98 771.44h4.62v13.85h-4.62zM633.59 785.29h4.62v13.85h-4.62zM638.21 799.15h4.62v13.85h-4.62zM642.83 813h4.62v13.85h-4.62zM647.45 826.86h4.62v18.47h-4.62zM652.07 845.33h4.62v13.85h-4.62zM656.68 859.19h4.62v13.85h-4.62zM661.3 873.04h4.62v13.85h-4.62zM665.92 886.89h4.62v13.85h-4.62zM670.54 900.75h4.62v9.24h-4.62zM675.16 909.99h4.62v13.85h-4.62zM679.78 923.84h4.62v9.24h-4.62zM684.39 933.08h4.62v9.24h-4.62zM689.01 942.31h4.62v9.24h-4.62zM693.63 951.55h4.62v9.24h-4.62zM698.25 960.79h4.62v9.24h-4.62zM702.87 970.02h4.62v9.24h-4.62zM707.48 979.26h4.62v9.24h-4.62zM712.1 988.49h4.62v9.24h-4.62zM716.72 997.73h4.62v4.62h-4.62zM721.34 1002.35h4.62v9.24h-4.62zM725.96 1011.59h4.62v4.62h-4.62zM730.58 1016.2h4.62v4.62h-4.62zM735.19 1020.82h4.62v4.62h-4.62zM739.81 1025.44h4.62v4.62h-4.62zM744.43 1030.06h4.62v4.62h-4.62zM749.05 1034.68h9.24v4.62h-9.24zM758.28 1039.3h4.62v4.62h-4.62zM762.9 1043.91h9.24v4.62h-9.24zM772.14 1048.53h9.24v4.62h-9.24zM781.38 1053.15h73.89v4.62h-73.89zM855.27 1048.53h9.24v4.62h-9.24zM864.5 1043.91h18.47v4.62h-18.47zM882.98 1039.3h13.85v4.62h-13.85zM896.83 1034.68h9.24v4.62h-9.24zM906.07 1030.06h13.85v4.62h-13.85zM919.92 1025.44h13.85v4.62h-13.85zM933.78 1020.82h9.24v4.62h-9.24zM943.01 1016.2h13.85v4.62h-13.85zM956.87 1011.59h13.85v4.62h-13.85zM970.72 1006.97h13.85v4.62h-13.85zM984.58 1002.35h18.47v4.62h-18.47zM1003.05 997.73h73.89v4.62h-73.89zM1076.94 1002.35h18.47v4.62h-18.47zM1095.41 1006.97h13.85v4.62h-13.85zM1109.27 1011.59h4.62v4.62h-4.62zM1113.89 1016.2h9.24v4.62h-9.24zM1123.12 1020.82h9.24v4.62h-9.24zM1132.36 1025.44h9.24v4.62h-9.24zM1141.6 1030.06h9.24v4.62h-9.24zM1150.83 1034.68h9.24v4.62h-9.24zM1160.07 1039.3h4.62v4.62h-4.62zM1164.69 1043.91h9.24v4.62h-9.24zM1173.92 1048.53h9.24v4.62h-9.24zM1183.16 1053.15h4.62v4.62h-4.62zM1187.78 1057.77h9.24v4.62h-9.24zM1197.01 1062.39h4.62v4.62h-4.62zM1201.63 1067h13.85v4.62h-13.85zM1215.49 1071.62h9.24v4.62h-9.24zM1224.72 1076.24h4.62v4.62h-4.62zM1229.34 1080.86h9.24v4.62h-9.24zM1238.58 1085.48h13.85v4.62h-13.85zM1252.43 1090.1h13.85v4.62h-13.85zM1266.29 1094.71h18.47v4.62h-18.47zM1284.76 1099.33h36.95v4.62h-36.95zM1321.71 1103.95h27.71v4.62h-27.71zM1349.41 1108.57h23.09v4.62h-23.09zM1372.51 1113.19h36.95v4.62h-36.95zM1409.45 1117.8h69.27v4.62h-69.27zM1478.72 1122.42h50.8v4.62h-50.8zM1529.52 1127.04h36.95v4.62h-36.95zM1566.47 1131.66h50.8v4.62h-50.8zM1617.27 1136.28h64.65v4.62h-64.65zM1681.92 1140.9h272.47v4.62h-272.47zM1954.4 1145.51h9.24v4.62h-9.24zM1963.63 1140.9h4.62v4.62h-4.62z"/>
<path fill="#000000" d="M250.28 494.35h4.62v9.24h-4.62zM254.9 503.58h4.62v13.85h-4.62zM259.52 517.44h4.62v9.24h-4.62zM264.14 526.67h4.62v4.62h-4.62zM268.76 531.29h4.62v9.24h-4.62zM273.37 540.53h4.62v4.62h-4.62zM277.99 545.15h4.62v4.62h-4.62zM282.61 549.77h9.24v4.62h-9.24zM291.85 554.38h13.85v4.62h-13.85zM305.7 549.77h9.24v4.62h-9.24zM314.94 545.15h4.62v4.62h-4.62zM319.56 540.53h9.24v4.62h-9.24zM328.79 535.91h4.62v4.62h-4.62zM333.41 526.67h4.62v9.24h-4.62zM338.03 522.06h4.62v4.62h-4.62zM342.65 512.82h4.62v9.24h-4.62zM347.26 503.58h4.62v9.24h-4.62zM351.88 494.35h4.62v9.24h-4.62zM356.5 489.73h4.62v4.62h-4.62zM361.12 480.49h4.62v9.24h-4.62zM365.74 471.26h4.62v9.24h-4.62zM370.36 462.02h4.62v9.24h-4.62zM374.97 448.17h4.62v13.85h-4.62zM379.59 438.93h4.62v9.24h-4.62zM384.21 434.31h4.62v4.62h-4.62zM388.83 425.07h4.62v9.24h-4.62zM393.45 415.84h4.62v9.24h-4.62zM398.07 401.98h4.62v13.85h-4.62zM402.68 388.13h4.62v13.85h-4.62zM407.3 378.89h4.62v9.24h-4.62zM411.92 374.27h4.62v4.62h-4.62zM416.54 365.04h4.62v9.24h-4.62zM421.16 355.8h4.62v9.24h-4.62zM425.77 346.56h4.62v9.24h-4.62zM430.39 337.33h4.62v9.24h-4.62zM435.01 328.09h4.62v9.24h-4.62zM439.63 323.47h9.24v4.62h-9.24zM448.87 318.86h4.62v4.62h-4.62zM453.48 314.24h9.24v4.62h-9.24zM462.72 305h4.62v9.24h-4.62zM467.34 305h4.62v4.62h-4.62zM471.96 309.62h4.62v4.62h-4.62zM476.57 314.24h9.24v4.62h-9.24zM485.81 318.86h4.62v4.62h-4.62zM490.43 323.47h4.62v4.62h-4.62zM495.05 328.09h4.62v9.24h-4.62zM499.67 337.33h4.62v9.24h-4.62zM504.28 346.56h4.62v9.24h-4.62zM508.9 355.8h4.62v9.24h-4.62zM513.52 365.04h4.62v13.85h-4.62zM518.14 378.89h4.62v13.85h-4.62zM522.76 392.75h4.62v13.85h-4.62zM527.37 406.6h4.62v9.24h-4.62zM531.99 415.84h4.62v13.85h-4.62zM536.61 429.69h4.62v18.47h-4.62zM541.23 448.17h4.62v13.85h-4.62zM545.85 462.02h4.62v18.47h-4.62zM550.47 480.49h4.62v13.85h-4.62zM555.08 494.35h4.62v18.47h-4.62zM559.7 512.82h4.62v18.47h-4.62zM564.32 531.29h4.62v18.47h-4.62zM568.94 549.77h4.62v18.47h-4.62zM573.56 568.24h4.62v18.47h-4.62zM578.17 586.71h4.62v23.09h-4.62zM582.79 609.8h4.62v18.47h-4.62zM587.41 628.28h4.62v18.47h-4.62zM592.03 646.75h4.62v18.47h-4.62zM596.65 665.22h4.62v18.47h-4.62zM601.27 683.69h4.62v18.47h-4.62zM605.88 702.17h4.62v18.47h-4.62zM610.5 720.64h4.62v23.09h-4.62zM615.12 743.73h4.62v13.85h-4.62zM619.74 757.58h4.62v13.85h-4.62zM624.36 771.44h4.62v13.85h-4.62zM628.98 785.29h4.62v13.85h-4.62zM633.59 799.15h4.62v13.85h-4.62zM638.21 813h4.62v13.85h-4.62zM642.83 826.86h4.62v18.47h-4.62zM647.45 845.33h4.62v13.85h-4.62zM652.07 859.19h4.62v13.85h-4.62zM656.68 873.04h4.62v13.85h-4.62zM661.3 886.89h4.62v13.85h-4.62zM665.92 900.75h4.62v9.24h-4.62zM670.54 909.99h4.62v9.24h-4.62zM675.16 919.22h4.62v9.24h-4.62zM679.78 928.46h4.62v9.24h-4.62zM684.39 937.69h4.62v9.24h-4.62zM689.01 946.93h4.62v9.24h-4.62zM693.63 956.17h4.62v9.24h-4.62zM698.25 965.4h4.62v4.62h-4.62zM702.87 970.02h4.62v9.24h-4.62zM707.48 979.26h4.62v9.24h-4.62zM712.1 988.49h4.62v4.62h-4.62zM716.72 993.11h4.62v4.62h-4.62zM721.34 997.73h4.62v9.24h-4.62zM725.96 1006.97h4.62v4.62h-4.62zM730.58 1011.59h9.24v4.62h-9.24zM739.81 1016.2h4.62v4.62h-4.62zM744.43 1020.82h4.62v4.62h-4.62zM749.05 1025.44h4.62v4.62h-4.62zM753.67 1030.06h9.24v4.62h-9.24zM762.9 1034.68h13.85v4.62h-13.85zM776.76 1039.3h4.62v4.62h-4.62zM781.38 1043.91h78.51v4.62h-78.51zM859.89 1039.3h13.85v4.62h-13.85zM873.74 1034.68h18.47v4.62h-18.47zM892.21 1030.06h13.85v4.62h-13.85zM906.07 1025.44h13.85v4.62h-13.85zM919.92 1020.82h13.85v4.62h-13.85zM933.78 1016.2h9.24v4.62h-9.24zM943.01 1011.59h9.24v4.62h-9.24zM952.25 1006.97h18.47v4.62h-18.47zM970.72 1002.35h18.47v4.62h-18.47zM989.19 997.73h9.24v4.62h-9.24zM998.43 993.11h87.75v4.62h-87.75zM1086.18 997.73h13.85v4.62h-13.85zM1100.03 1002.35h9.24v4.62h-9.24zM1109.27 1006.97h9.24v4.62h-9.24zM1118.5 1011.59h9.24v4.62h-9.24zM1127.74 1016.2h9.24v4.62h-9.24zM1136.98 1020.82h9.24v4.62h-9.24zM1146.21 1025.44h9.24v4.62h-9.24zM1155.45 1030.06h4.62v4.62h-4.62zM1160.07 1034.68h4.62v4.62h-4.62zM1164.69 1039.3h9.24v4.62h-9.24zM1173.92 1043.91h9.24v4.62h-9.24zM1183.16 1048.53h4.62v4.62h-4.62zM1187.78 1053.15h9.24v4.62h-9.24zM1197.01 1057.77h4.62v4.62h-4.62zM1201.63 1062.39h9.24v4.62h-9.24zM1210.87 1067h9.24v4.62h-9.24zM1220.1 1071.62h9.24v4.62h-9.24zM1229.34 1076.24h9.24v4.62h-9.24zM1238.58 1080.86h9.24v4.62h-9.24zM1247.81 1085.48h13.85v4.62h-13.85zM1261.67 1090.1h13.85v4.62h-13.85zM1275.52 1094.71h13.85v4.62h-13.85zM1289.38 1099.33h18.47v4.62h-18.47zM1307.85 1103.95h18.47v4.62h-18.47zM1326.32 1108.57h23.09v4.62h-23.09zM1349.41 1113.19h23.09v4.62h-23.09zM1372.51 1117.8h36.95v4.62h-36.95zM1409.45 1122.42h46.18v4.62h-46.18zM1455.63 1127.04h46.18v4.62h-46.18zM1501.82 1131.66h60.04v4.62h-60.04zM1561.85 1136.28h46.18v4.62h-46.18zM1608.03 1140.9h69.27v4.62h-69.27zM1677.31 1145.51h96.98v4.62h-96.98zM1774.29 1150.13h129.31v4.62h-129.31zM1903.6 1154.75h64.65v4.62h-64.65z"/>
<path fill="#ff8000" d="M250.28 508.2h4.62v9.24h-4.62zM254.9 517.44h4.62v13.85h-4.62zM259.52 531.29h4.62v9.24h-4.62zM264.14 540.53h4.62v4.62h-4.62zM268.76 545.15h4.62v9.24h-4.62zM273.37 554.38h4.62v4.62h-4.62zM277.99 559h4.62v4.62h-4.62zM282.61 563.62h9.24v4.62h-9.24zM291.85 568.24h13.85v4.62h-13.85zM305.7 563.62h9.24v4.62h-9.24zM314.94 559h9.24v4.62h-9.24zM324.17 554.38h4.62v4.62h-4.62zM328.79 545.15h4.62v9.24h-4.62zM333.41 540.53h4.62v4.62h-4.62zM338.03 535.91h4.62v4.62h-4.62zM342.65 526.67h4.62v9.24h-4.62zM347.26 517.44h4.62v9.24h-4.62zM351.88 508.2h4.62v9.24h-4.62zM356.5 503.58h4.62v4.62h-4.62zM361.12 494.35h4.62v9.24h-4.62zM365.74 485.11h4.62v9.24h-4.62zM370.36 475.87h4.62v9.24h-4.62zM374.97 466.64h4.62v9.24h-4.62zM379.59 452.78h4.62v13.85h-4.62zM384.21 443.55h4.62v9.24h-4.62zM388.83 434.31h4.62v9.24h-4.62zM393.45 425.07h4.62v9.24h-4.62zM398.07 411.22h4.62v13.85h-4.62zM402.68 401.98h4.62v9.24h-4.62zM407.3 392.75h4.62v9.24h-4.62zM411.92 383.51h4.62v9.24h-4.62zM416.54 374.27h4.62v9.24h-4.62zM421.16 369.66h4.62v4.62h-4.62zM425.77 360.42h4.62v9.24h-4.62zM430.39 351.18h4.62v9.24h-4.62zM435.01 341.95h4.62v9.24h-4.62zM439.63 337.33h4.62v4.62h-4.62zM444.25 332.71h4.62v4.62h-4.62zM448.87 328.09h9.24v4.62h-9.24zM458.1 323.47h18.47v4.62h-18.47zM476.57 328.09h4.62v4.62h-4.62zM481.19 332.71h4.62v4.62h-4.62zM485.81 337.33h4.62v4.62h-4.62zM490.43 341.95h4.62v9.24h-4.62zM495.05 351.18h4.62v9.24h-4.62zM499.67 360.42h4.62v4.62h-4.62zM504.28 365.04h4.62v9.24h-4.62zM508.9 374.27h4.62v9.24h-4.62zM513.52 383.51h4.62v13.85h-4.62zM518.14 397.37h4.62v9.24h-4.62zM522.76 406.6h4.62v9.24h-4.62zM527.37 415.84h4.62v13.85h-4.62zM531.99 429.69h4.62v18.47h-4.62zM536.61 448.17h4.62v13.85h-4.62zM541.23 462.02h4.62v18.47h-4.62zM545.85 480.49h4.62v13.85h-4.62zM550.47 494.35h4.62v18.47h-4.62zM555.08 512.82h4.62v18.47h-4.62zM559.7 531.29h4.62v18.47h-4.62zM564.32 549.77h4.62v18.47h-4.62zM568.94 568.24h4.62v18.47h-4.62zM573.56 586.71h4.62v23.09h-4.62zM578.17 609.8h4.62v18.47h-4.62zM582.79 628.28h4.62v18.47h-4.62zM587.41 646.75h4.62v18.47h-4.62zM592.03 665.22h4.62v18.47h-4.62zM596.65 683.69h4.62v18.47h-4.62zM601.27 702.17h4.62v18.47h-4.62zM605.88 720.64h4.62v23.09h-4.62zM610.5 743.73h4.62v18.47h-4.62zM615.12 762.2h4.62v13.85h-4.62zM619.74 776.06h4.62v13.85h-4.62zM624.36 789.91h4.62v9.24h-4.62zM628.98 799.15h4.62v13.85h-4.62zM633.59 813h4.62v13.85h-4.62zM638.21 826.86h4.62v18.47h-4.62zM642.83 845.33h4.62v18.47h-4.62zM647.45 863.8h4.62v13.85h-4.62zM652.07 877.66h4.62v9.24h-4.62zM656.68 886.89h4.62v13.85h-4.62zM661.3 900.75h4.62v13.85h-4.62zM665.92 914.6h4.62v9.24h-4.62zM670.54 923.84h4.62v9.24h-4.62zM675.16 933.08h4.62v9.24h-4.62zM679.78 942.31h4.62v9.24h-4.62zM684.39 951.55h4.62v9.24h-4.62zM689.01 960.79h4.62v9.24h-4.62zM693.63 970.02h4.62v9.24h-4.62zM698.25 979.26h4.62v9.24h-4.62zM702.87 988.49h4.62v4.62h-4.62zM707.48 993.11h4.62v4.62h-4.62zM712.1 997.73h4.62v4.62h-4.62zM716.72 1002.35h4.62v9.24h-4.62zM721.34 1011.59h4.62v9.24h-4.62zM725.96 1020.82h4.62v4.62h-4.62zM730.58 1025.44h4.62v4.62h-4.62zM735.19 1030.06h9.24v4.62h-9.24zM744.43 1034.68h9.24v4.62h-9.24zM753.67 1039.3h4.62v9.24h-4.62zM758.28 1043.91h4.62v4.62h-4.62zM762.9 1048.53h9.24v4.62h-9.24zM772.14 1053.15h9.24v4.62h-9.24zM781.38 1057.77h78.51v4.62h-78.51zM859.89 1053.15h13.85v4.62h-13.85zM873.74 1048.53h18.47v4.62h-18.47zM892.21 1043.91h13.85v4.62h-13.85zM906.07 1039.3h13.85v4.62h-13.85zM919.92 1034.68h13.85v4.62h-13.85zM933.78 1030.06h9.24v4.62h-9.24zM943.01 1025.44h9.24v4.62h-9.24zM952.25 1020.82h18.47v4.62h-18.47zM970.72 1016.2h13.85v4.62h-13.85zM984.58 1011.59h18.47v4.62h-18.47zM1003.05 1006.97h27.71v4.62h-27.71zM1030.76 1002.35h23.09v4.62h-23.09zM1053.85 1006.97h27.71v4.62h-27.71zM1081.56 1011.59h13.85v4.62h-13.85zM1095.41 1016.2h13.85v4.62h-13.85zM1109.27 1020.82h9.24v4.62h-9.24zM1118.5 1025.44h9.24v4.62h-9.24zM1127.74 1030.06h9.24v4.62h-9.24zM1136.98 1034.68h9.24v4.62h-9.24zM1146.21 1039.3h9.24v4.62h-9.24zM1155.45 1043.91h4.62v4.62h-4.62zM1160.07 1048.53h4.62v4.62h-4.62zM1164.69 1053.15h9.24v4.62h-9.24zM1173.92 1057.77h4.62v4.62h-4.62zM1178.54 1062.39h9.24v4.62h-9.24zM1187.78 1067h9.24v4.62h-9.24zM1197.01 1071.62h4.62v4.62h-4.62zM1201.63 1076.24h9.24v4.62h-9.24zM1210.87 1080.86h9.24v4.62h-9.24zM1220.1 1085.48h9.24v4.62h-9.24zM1229.34 1090.1h9.24v4.62h-9.24zM1238.58 1094.71h13.85v4.62h-13.85zM1252.43 1099.33h9.24v4.62h-9.24zM1261.67 1103.95h13.85v4.62h-13.85zM1275.52 1108.57h13.85v4.62h-13.85zM1289.38 1113.19h18.47v4.62h-18.47zM1307.85 1117.8h18.47v4.62h-18.47zM1326.32 1122.42h23.09v4.62h-23.09zM1349.41 1127.04h23.09v4.62h-23.09zM1372.51 1131.66h36.95v4.62h-36.95zM1409.45 1136.28h46.18v4.62h-46.18zM1455.63 1140.9h50.8v4.62h-50.8zM1506.43 1145.51h55.42v4.62h-55.42zM1561.85 1150.13h46.18v4.62h-46.18zM1608.03 1154.75h69.27v4.62h-69.27zM1677.31 1159.37h290.95v4.62h-290.95z"/>
</g>
<rect x="241.05" y="23.29" width="9.24" height="1140.7" fill="#000"/>
<rect x="241.05" y="23.29" width="1731.83" height="4.62" fill="#000"/>
<rect x="1968.25" y="23.29" width="4.62" height="1140.7" fill="#000"/>
<rect x="217.96" y="1159.37" width="1754.92" height="4.62" fill="#000"/>
<rect x="217.96" y="46.38" width="23.09" height="4.62" fill="#000"/>
<rect x="217.96" y="231.11" width="23.09" height="4.62" fill="#000"/>
<rect x="217.96" y="415.84" width="23.09" height="4.62" fill="#000"/>
<rect x="222.57" y="600.57" width="18.47" height="4.62" fill="#000"/>
<rect x="222.57" y="789.91" width="18.47" height="4.62" fill="#000"/>
<rect x="217.96" y="974.64" width="23.09" height="4.62" fill="#000"/>
<rect x="231.81" y="138.75" width="9.24" height="4.62" fill="#000"/>
<rect x="231.81" y="323.47" width="9.24" height="4.62" fill="#000"/>
<rect x="231.81" y="508.2" width="9.24" height="4.62" fill="#000"/>
<rect x="236.43" y="692.93" width="4.62" height="4.62" fill="#000"/>
<rect x="231.81" y="882.28" width="9.24" height="4.62" fill="#000"/>
<rect x="231.81" y="1067" width="9.24" height="4.62" fill="#000"/>
<rect x="587.41" y="1163.99" width="9.24" height="23.09" fill="#000"/>
<rect x="1049.23" y="1163.99" width="9.24" height="23.09" fill="#000"/>
<rect x="1506.43" y="1163.99" width="9.24" height="23.09" fill="#000"/>
<rect x="1963.63" y="1163.99" width="9.24" height="23.09" fill="#000"/>
<rect x="356.5" y="1163.99" width="9.24" height="9.24" fill="#000"/>
<rect x="361.12" y="1173.22" width="4.62" height="4.62" fill="#000"/>
<rect x="818.32" y="1163.99" width="9.24" height="9.24" fill="#000"/>
<rect x="818.32" y="1173.22" width="4.62" height="4.62" fill="#000"/>
<rect x="1275.52" y="1163.99" width="9.24" height="9.24" fill="#000"/>
<rect x="1280.14" y="1173.22" width="4.62" height="4.62" fill="#000"/>
<rect x="1737.34" y="1163.99" width="9.24" height="9.24" fill="#000"/>
<rect x="1737.34" y="1173.22" width="4.62" height="4.62" fill="#000"/>
<rect x="1224.72" y="97.18" width="138.55" height="4.62" fill="#ff0000"/>
<rect x="1224.72" y="166.46" width="143.16" height="4.62" fill="#00ff00"/>
<rect x="1224.72" y="235.73" width="143.16" height="4.62" fill="#0000ff"/>
<rect x="1224.72" y="309.62" width="143.16" height="4.62" fill="#ff00ff"/>
<rect x="1224.72" y="378.89" width="138.55" height="4.62" fill="#000000"/>
<rect x="1224.72" y="448.17" width="143.16" height="4.62" fill="#ff8000"/>
</g>
<defs>
<pattern id="hatch1" patternUnits="userSpaceOnUse" x="324.17" y="1454.93" width="106.22" height="32.33"><rect width="106.22" height="32.33" fill="#008080"/><path fill="#000" d="M9.24 0h4.62v4.62h-4.62zM23.09 0h4.62v4.62h-4.62zM41.56 0h4.62v4.62h-4.62zM60.04 0h4.62v4.62h-4.62zM78.51 0h4.62v4.62h-4.62zM96.98 0h4.62v4.62h-4.62zM0 4.62h9.24v4.62h-9.24zM18.47 4.62h4.62v4.62h-4.62zM36.95 4.62h4.62v4.62h-4.62zM55.42 4.62h4.62v4.62h-4.62zM73.89 4.62h4.62v4.62h-4.62zM92.36 4.62h4.62v4.62h-4.62zM13.85 9.24h4.62v4.62h-4.62zM32.33 9.24h4.62v4.62h-4.62zM50.8 9.24h4.62v4.62h-4.62zM69.27 9.24h4.62v4.62h-4.62zM87.75 9.24h4.62v4.62h-4.62zM101.6 9.24h4.62v4.62h-4.62zM9.24 13.85h4.62v4.62h-4.62zM27.71 13.85h4.62v4.62h-4.62zM46.18 13.85h4.62v4.62h-4.62zM64.65 13.85h4.62v4.62h-4.62zM78.51 13.85h9.24v4.62h-9.24zM96.98 13.85h4.62v4.62h-4.62zM4.62 18.47h4.62v4.62h-4.62zM23.09 18.47h4.62v4.62h-4.62zM41.56 18.47h4.62v4.62h-4.62zM55.42 18.47h9.24v4.62h-9.24zM73.89 18.47h4.62v4.62h-4.62zM92.36 18.47h4.62v4.62h-4.62zM0 23.09h4.62v4.62h-4.62zM18.47 23.09h4.62v4.62h-4.62zM36.95 23.09h4.62v4.62h-4.62zM50.8 23.09h4.62v4.62h-4.62zM69.27 23.09h4.62v4.62h-4.62zM87.75 23.09h4.62v4.62h-4.62zM13.85 27.71h4.62v4.62h-4.62zM27.71 27.71h9.24v4.62h-9.24zM46.18 27.71h4.62v4.62h-4.62zM64.65 27.71h4.62v4.62h-4.62zM83.13 27.71h4.62v4.62h-4.62zM101.6 27.71h4.62v4.62h-4.62z"/></pattern>
<pattern id="hatch2" patternUnits="userSpaceOnUse" x="767.52" y="1445.7" width="106.22" height="32.33"><rect width="106.22" height="32.33" fill="#008080"/><path fill="#000" d="M9.24 0h4.62v4.62h-4.62zM27.71 0h4.62v4.62h-4.62zM41.56 0h4.62v4.62h-4.62zM60.04 0h4.62v4.62h-4.62zM78.51 0h4.62v4.62h-4.62zM96.98 0h4.62v4.62h-4.62zM4.62 4.62h4.62v4.62h-4.62zM18.47 4.62h9.24v4.62h-9.24zM36.95 4.62h4.62v4.62h-4.62zM55.42 4.62h4.62v4.62h-4.62zM73.89 4.62h4.62v4.62h-4.62zM92.36 4.62h4.62v4.62h-4.62zM0 9.24h4.62v4.62h-4.62zM13.85 9.24h4.62v4.62h-4.62zM32.33 9.24h4.62v4.62h-4.62zM50.8 9.24h4.62v4.62h-4.62zM69.27 9.24h4.62v4.62h-4.62zM87.75 9.24h4.62v4.62h-4.62zM9.24 13.85h4.62v4.62h-4.62zM27.71 13.85h4.62v4.62h-4.62zM46.18 13.85h4.62v4.62h-4.62zM64.65 13.85h4.62v4.62h-4.62zM83.13 13.85h4.62v4.62h-4.62zM96.98 13.85h9.24v4.62h-9.24zM4.62 18.47h4.62v4.62h-4.62zM23.09 18.47h4.62v4.62h-4.62zM41.56 18.47h4.62v4.62h-4.62zM60.04 18.47h4.62v4.62h-4.62zM73.89 18.47h9.24v4.62h-9.24zM92.36 18.47h4.62v4.62h-4.62zM0 23.09h4.62v4.62h-4.62zM18.47 23.09h4.62v4.62h-4.62zM36.95 23.09h4.62v4.62h-4.62zM55.42 23.09h4.62v4.62h-4.62zM69.27 23.09h4.62v4.62h-4.62zM87.75 23.09h4.62v4.62h-4.62zM13.85 27.71h4.62v4.62h-4.62zM32.33 27.71h4.62v4.62h-4.62zM46.18 27.71h9.24v4.62h-9.24zM64.65 27.71h4.62v4.62h-4.62zM83.13 27.71h4.62v4.62h-4.62zM101.6 27.71h4.62v4.62h-4.62z"/></pattern>
<pattern id="hatch3" patternUnits="userSpaceOnUse" x="1215.49" y="1436.46" width="106.22" height="32.33"><rect width="106.22" height="32.33" fill="#008080"/><path fill="#000" d="M9.24 0h4.62v4.62h-4.62zM27.71 0h4.62v4.62h-4.62zM46.18 0h4.62v4.62h-4.62zM64.65 0h4.62v4.62h-4.62zM78.51 0h4.62v4.62h-4.62zM96.98 0h4.62v4.62h-4.62zM4.62 4.62h4.62v4.62h-4.62zM23.09 4.62h4.62v4.62h-4.62zM41.56 4.62h4.62v4.62h-4.62zM55.42 4.62h9.24v4.62h-9.24zM73.89 4.62h4.62v4.62h-4.62zM92.36 4.62h4.62v4.62h-4.62zM0 9.24h4.62v4.62h-4.62zM18.47 9.24h4.62v4.62h-4.62zM32.33 9.24h9.24v4.62h-9.24zM50.8 9.24h4.62v4.62h-4.62zM69.27 9.24h4.62v4.62h-4.62zM87.75 9.24h4.62v4.62h-4.62zM13.85 13.85h4.62v4.62h-4.62zM27.71 13.85h4.62v4.62h-4.62zM46.18 13.85h4.62v4.62h-4.62zM64.65 13.85h4.62v4.62h-4.62zM83.13 13.85h4.62v4.62h-4.62zM101.6 13.85h4.62v4.62h-4.62zM4.62 18.47h9.24v4.62h-9.24zM23.09 18.47h4.62v4.62h-4.62zM41.56 18.47h4.62v4.62h-4.62zM60.04 18.47h4.62v4.62h-4.62zM78.51 18.47h4.62v4.62h-4.62zM96.98 18.47h4.62v4.62h-4.62zM0 23.09h4.62v4.62h-4.62zM18.47 23.09h4.62v4.62h-4.62zM36.95 23.09h4.62v4.62h-4.62zM55.42 23.09h4.62v4.62h-4.62zM73.89 23.09h4.62v4.62h-4.62zM92.36 23.09h4.62v4.62h-4.62zM13.85 27.71h4.62v4.62h-4.62zM32.33 27.71h4.62v4.62h-4.62zM50.8 27.71h4.62v4.62h-4.62zM69.27 27.71h4.62v4.62h-4.62zM83.13 27.71h9.24v4.62h-9.24zM101.6 27.71h4.62v4.62h-4.62z"/></pattern>
<pattern id="hatch4" patternUnits="userSpaceOnUse" x="1658.83" y="1445.7" width="106.22" height="32.33"><rect width="106.22" height="32.33" fill="#008080"/><path fill="#000" d="M9.24 0h9.24v4.62h-9.24zM27.71 0h4.62v4.62h-4.62zM46.18 0h4.62v4.62h-4.62zM64.65 0h4.62v4.62h-4.62zM83.13 0h4.62v4.62h-4.62zM101.6 0h4.62v4.62h-4.62zM4.62 4.62h4.62v4.62h-4.62zM23.09 4.62h4.62v4.62h-4.62zM41.56 4.62h4.62v4.62h-4.62zM60.04 4.62h4.62v4.62h-4.62zM78.51 4.62h4.62v4.62h-4.62zM96.98 4.62h4.62v4.62h-4.62zM0 9.24h4.62v4.62h-4.62zM18.47 9.24h4.62v4.62h-4.62zM36.95 9.24h4.62v4.62h-4.62zM55.42 9.24h4.62v4.62h-4.62zM73.89 9.24h4.62v4.62h-4.62zM87.75 9.24h9.24v4.62h-9.24zM13.85 13.85h4.62v4.62h-4.62zM32.33 13.85h4.62v4.62h-4.62zM50.8 13.85h4.62v4.62h-4.62zM64.65 13.85h9.24v4.62h-9.24zM83.13 13.85h4.62v4.62h-4.62zM101.6 13.85h4.62v4.62h-4.62zM9.24 18.47h4.62v4.62h-4.62zM27.71 18.47h4.62v4.62h-4.62zM46.18 18.47h4.62v4.62h-4.62zM60.04 18.47h4.62v4.62h-4.62zM78.51 18.47h4.62v4.62h-4.62zM96.98 18.47h4.62v4.62h-4.62zM4.62 23.09h4.62v4.62h-4.62zM23.09 23.09h4.62v4.62h-4.62zM36.95 23.09h9.24v4.62h-9.24zM55.42 23.09h4.62v4.62h-4.62zM73.89 23.09h4.62v4.62h-4.62zM92.36 23.09h4.62v4.62h-4.62zM0 27.71h4.62v4.62h-4.62zM18.47 27.71h4.62v4.62h-4.62zM32.33 27.71h4.62v4.62h-4.62zM50.8 27.71h4.62v4.62h-4.62zM69.27 27.71h4.62v4.62h-4.62zM87.75 27.71h4.62v4.62h-4.62z"/></pattern>
</defs>
<g id="chart-b" shape-rendering="crispEdges">
<rect x="319.56" y="1450.31" width="226.29" height="1080.66" fill="#000"/>
<rect x="324.17" y="1454.93" width="217.06" height="1071.42" fill="url(#hatch1)"/>
<rect x="762.9" y="1441.08" width="226.29" height="1089.9" fill="#000"/>
<rect x="767.52" y="1445.7" width="217.06" height="1080.66" fill="url(#hatch2)"/>
<rect x="1210.87" y="1431.84" width="226.29" height="1099.13" fill="#000"/>
<rect x="1215.49" y="1436.46" width="217.06" height="1089.9" fill="url(#hatch3)"/>
<rect x="1654.22" y="1441.08" width="226.29" height="1089.9" fill="#000"/>
<rect x="1658.83" y="1445.7" width="217.06" height="1080.66" fill="url(#hatch4)"/>
<rect x="204.1" y="1348.71" width="4.62" height="1191.5" fill="#000"/>
<rect x="208.72" y="1344.1" width="4.62" height="1200.73" fill="#000"/>
<rect x="208.72" y="1344.1" width="1782.63" height="4.62" fill="#000"/>
<rect x="1986.73" y="1344.1" width="4.62" height="1200.73" fill="#000"/>
<rect x="1991.34" y="2526.36" width="4.62" height="13.85" fill="#000"/>
<rect x="181.01" y="2526.36" width="1810.33" height="4.62" fill="#000"/>
<rect x="181.01" y="1353.33" width="23.09" height="4.62" fill="#000"/>
<rect x="181.01" y="1588.86" width="23.09" height="4.62" fill="#000"/>
<rect x="181.01" y="1819.77" width="23.09" height="4.62" fill="#000"/>
<rect x="181.01" y="2055.3" width="23.09" height="4.62" fill="#000"/>
<rect x="181.01" y="2290.83" width="23.09" height="4.62" fill="#000"/>
<rect x="194.86" y="1468.79" width="9.24" height="4.62" fill="#000"/>
<rect x="190.25" y="1704.32" width="13.85" height="4.62" fill="#000"/>
<rect x="194.86" y="1939.84" width="9.24" height="4.62" fill="#000"/>
<rect x="194.86" y="2175.37" width="9.24" height="4.62" fill="#000"/>
<rect x="194.86" y="2410.9" width="9.24" height="4.62" fill="#000"/>
<rect x="425.77" y="2530.97" width="9.24" height="23.09" fill="#000"/>
<rect x="873.74" y="2530.97" width="9.24" height="23.09" fill="#000"/>
<rect x="1317.09" y="2530.97" width="9.24" height="23.09" fill="#000"/>
<rect x="1765.05" y="2530.97" width="9.24" height="23.09" fill="#000"/>
<rect x="652.07" y="2530.97" width="9.24" height="9.24" fill="#000"/>
<rect x="652.07" y="2540.21" width="4.62" height="4.62" fill="#000"/>
<rect x="1095.41" y="2530.97" width="9.24" height="9.24" fill="#000"/>
<rect x="1100.03" y="2540.21" width="4.62" height="4.62" fill="#000"/>
<rect x="1543.38" y="2530.97" width="9.24" height="9.24" fill="#000"/>
<rect x="1543.38" y="2540.21" width="4.62" height="4.62" fill="#000"/>
</g>
<defs><filter id="lowres" filterUnits="userSpaceOnUse" x="0" y="0" width="2049" height="2712" color-interpolation-filters="sRGB"><feGaussianBlur in="SourceGraphic" stdDeviation="1.5 0.9" result="b"/><feFlood x="2" y="2" width="1" height="1" flood-color="#000"/><feComposite width="5" height="5"/><feTile result="grid"/><feComposite in="b" in2="grid" operator="in"/><feMorphology operator="dilate" radius="2"/><feComponentTransfer><feFuncA type="linear" slope="1.8" intercept="-0.04"/></feComponentTransfer></filter></defs>
<g id="labels" filter="url(#lowres)" font-family="'Liberation Sans', Arial, sans-serif" fill="#000">
<text xml:space="preserve" x="115.3 151.26 172.6" y="64.5" font-size="52.5" stroke="#000" stroke-width="1.5" stroke-linejoin="round">2.4</text>
<text xml:space="preserve" x="115.3 151.26 172.6" y="249.5" font-size="52.5" stroke="#000" stroke-width="1.5" stroke-linejoin="round">2.0</text>
<text xml:space="preserve" x="115.3 151.26 172.6" y="433.8" font-size="52.5" stroke="#000" stroke-width="1.5" stroke-linejoin="round">1.6</text>
<text xml:space="preserve" x="115.3 151.26 172.6" y="618.7" font-size="52.5" stroke="#000" stroke-width="1.5" stroke-linejoin="round">1.2</text>
<text xml:space="preserve" x="115.3 151.26 172.6" y="803.5" font-size="52.5" stroke="#000" stroke-width="1.5" stroke-linejoin="round">0.8</text>
<text xml:space="preserve" x="115.3 151.26 172.6" y="992.6" font-size="52.5" stroke="#000" stroke-width="1.5" stroke-linejoin="round">0.4</text>
<text xml:space="preserve" x="115.3 151.26 172.6" y="1177.4" font-size="52.5" stroke="#000" stroke-width="1.5" stroke-linejoin="round">0.0</text>
<text xml:space="preserve" x="537.25 575.15 613.05" y="1242.2" font-size="52.5" stroke="#000" stroke-width="1.5" stroke-linejoin="round">240</text>
<text xml:space="preserve" x="996.6 1034.5 1072.4" y="1242.2" font-size="52.5" stroke="#000" stroke-width="1.5" stroke-linejoin="round">280</text>
<text xml:space="preserve" x="1454.5 1492.4 1530.3" y="1242.2" font-size="52.5" stroke="#000" stroke-width="1.5" stroke-linejoin="round">320</text>
<text xml:space="preserve" x="1916 1953.9 1991.8" y="1242.2" font-size="52.5" stroke="#000" stroke-width="1.5" stroke-linejoin="round">360</text>
<text xml:space="preserve" x="824.88 880.64 916.82 950.16 986.34 1005.66 1041.84 1078.02 1114.2 1136.33 1172.51 1190.12 1204.15 1250.96" y="1291.5" font-size="50.5" stroke="#000" stroke-width="1.5" stroke-linejoin="round">Wavelength, nm</text>
<text xml:space="preserve" x="263 288.48 325.22" y="77.5" font-size="50.4" stroke="#000" stroke-width="1.5" stroke-linejoin="round">(a)</text>
<text xml:space="preserve" x="110.5" y="757" font-size="71" textLength="330" lengthAdjust="spacing" transform="rotate(-90 110.5 757)">Absorbance</text>
<text xml:space="preserve" x="1382.24 1422.44 1455.25 1488.07 1508.49 1531.38 1564.19 1580.89 1593.25 1632.8 1650.1 1669.87 1692.1 1724.26 1756.42 1788.58 1820.75 1850.41 1882.57 1914.73" y="115.2" font-size="44.5" stroke="#000" stroke-width="1" stroke-linejoin="round">Control Nitrobenzene</text>
<text xml:space="preserve" x="1382.24 1422.44 1455.25 1488.07 1508.49 1531.38 1564.19 1586.85 1599.21 1635.84 1667.54 1684.37 1701.2 1718.03 1749.73" y="184.4" font-size="44.5" stroke="#000" stroke-width="1" stroke-linejoin="round">Control Aniline</text>
<text xml:space="preserve" x="1384.92 1415.94 1444.46 1473.52 1485.88 1498.24 1520.92 1553.53 1586.14 1618.75 1648.86 1669.09 1686.83 1719.44 1755.08 1767.44 1805.77 1834.21 1862.65 1878.73" y="258" font-size="44.5" stroke="#000" stroke-width="1" stroke-linejoin="round">1st  reduction Cycle</text>
<text xml:space="preserve" x="1383.26 1418.29 1453.32 1482.18 1494.54 1517.69 1550.76 1583.83 1616.9 1647.47 1668.16 1686.37 1719.44 1755.08 1767.44 1807.14 1836.96 1866.78 1884.23" y="327.5" font-size="44.5" stroke="#000" stroke-width="1" stroke-linejoin="round">2nd reduction Cycle</text>
<text xml:space="preserve" x="1383.81 1414.18 1434.62 1473.52 1485.88 1498.24 1521.51 1554.71 1587.9 1621.1 1651.8 1672.61 1690.94 1724.14 1755.08 1767.44 1808.09 1838.86 1869.63 1888.03" y="396.7" font-size="44.5" stroke="#000" stroke-width="1" stroke-linejoin="round">3rd  reduction Cycle</text>
<text xml:space="preserve" x="1384.48 1414.6 1432.34 1469.82 1482.18 1494.54 1517.69 1550.76 1583.83 1616.9 1647.47 1668.16 1686.37 1719.44 1755.08 1767.44 1807.14 1836.96 1866.78 1884.23" y="470.7" font-size="44.5" stroke="#000" stroke-width="1" stroke-linejoin="round">4th  reduction Cycle</text>
<text xml:space="preserve" x="55.8 92.95 130.1" y="1371.5" font-size="52.5" stroke="#000" stroke-width="1.5" stroke-linejoin="round">100</text>
<text xml:space="preserve" x="87.3 130.1" y="1602.4" font-size="52.5" stroke="#000" stroke-width="1.5" stroke-linejoin="round">80</text>
<text xml:space="preserve" x="87.3 130.1" y="1837.7" font-size="52.5" stroke="#000" stroke-width="1.5" stroke-linejoin="round">60</text>
<text xml:space="preserve" x="87.3 130.1" y="2073.4" font-size="52.5" stroke="#000" stroke-width="1.5" stroke-linejoin="round">40</text>
<text xml:space="preserve" x="87.3 130.1" y="2308.6" font-size="52.5" stroke="#000" stroke-width="1.5" stroke-linejoin="round">20</text>
<text xml:space="preserve" x="130.1" y="2544.2" font-size="52.5" stroke="#000" stroke-width="1.5" stroke-linejoin="round">0</text>
<text xml:space="preserve" x="343.64 389.56 424.27 458.98 479.66 519.41 533.44" y="2599.3" font-size="50.5" stroke="#000" stroke-width="1.5" stroke-linejoin="round">Cycle 1</text>
<text xml:space="preserve" x="776.64 822.59 857.32 892.06 912.76 952.93 966.96" y="2599.3" font-size="50.5" stroke="#000" stroke-width="1.5" stroke-linejoin="round">Cycle 2</text>
<text xml:space="preserve" x="1216.44 1262.49 1297.32 1332.16 1352.96 1388.35 1402.38" y="2599.3" font-size="50.5" stroke="#000" stroke-width="1.5" stroke-linejoin="round">Cycle 3</text>
<text xml:space="preserve" x="1649.64 1696.04 1731.22 1766.41 1787.56 1826.11 1840.14" y="2599.3" font-size="50.5" stroke="#000" stroke-width="1.5" stroke-linejoin="round">Cycle 4</text>
<text xml:space="preserve" x="823.34 869.29 904.02 938.76 959.46 998.82 1012.85 1053.05 1093.24 1147.42 1187.62 1227.82" y="2678.3" font-size="50.5" stroke="#000" stroke-width="1.5" stroke-linejoin="round">Cycle number</text>
<text xml:space="preserve" x="225 252.48 291.22" y="1411.5" font-size="50.4" stroke="#000" stroke-width="1.5" stroke-linejoin="round">(b)</text>
<text xml:space="preserve" x="68.5" y="2167" font-size="68" textLength="392" lengthAdjust="spacing" transform="rotate(-90 68.5 2167)">Conversion %</text>
<rect x="117.55" y="428.73" width="10" height="6.82" fill="#fff"/>
<rect x="134.09" y="428.73" width="9.59" height="6.82" fill="#fff"/>
<rect x="117.55" y="613.63" width="10" height="6.82" fill="#fff"/>
<rect x="134.09" y="613.63" width="9.59" height="6.82" fill="#fff"/>
<rect x="1386.81" y="253.78" width="8.6" height="5.72" fill="#fff"/>
<rect x="1400.74" y="253.78" width="8.25" height="5.72" fill="#fff"/>
<rect x="58.05" y="1366.43" width="10" height="6.82" fill="#fff"/>
<rect x="74.59" y="1366.43" width="9.59" height="6.82" fill="#fff"/>
<rect x="535.54" y="2594.38" width="9.65" height="6.67" fill="#fff"/>
<rect x="551.55" y="2594.38" width="9.26" height="6.67" fill="#fff"/>
</g>
</svg>
</body>
</html>
